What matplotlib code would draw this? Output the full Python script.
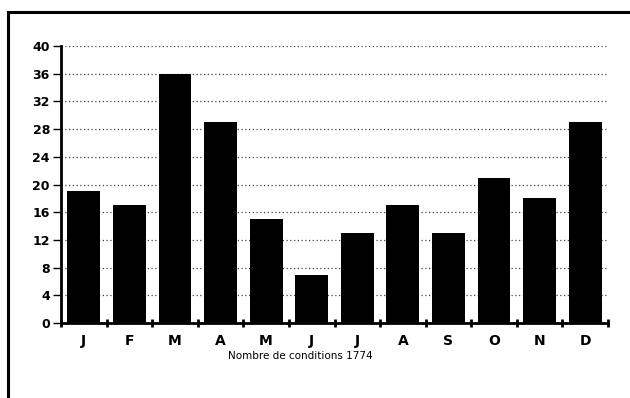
import numpy as np
import matplotlib.pyplot as plt
from matplotlib.patches import Rectangle

months = ['J', 'F', 'M', 'A', 'M', 'J', 'J', 'A', 'S', 'O', 'N', 'D']
counts = [19, 17, 36, 29, 15, 7, 13, 17, 13, 21, 18, 29]
y_ticks = list(range(0, 41, 4))

fig = plt.figure(figsize=(6.3, 3.98), dpi=100)
fig.patch.set_facecolor('white')

# outer frame (only top and left edges show in the scan)
fig.patches.append(Rectangle((8 / 630, -0.05), 1.0, 1 - 12 / 398 + 0.05,
                             transform=fig.transFigure, fill=False,
                             edgecolor='black', linewidth=2.2))

ax = fig.add_axes([61 / 630, 1 - 323 / 398, (608 - 61) / 630, (323 - 46) / 398])
x = np.arange(len(months))
ax.bar(x, counts, width=0.72, color='black', zorder=3)

ax.set_xlim(-0.5, len(months) - 0.5)
ax.set_ylim(0, 40)
ax.set_yticks(y_ticks)
ax.set_xticks(x)
ax.set_xticklabels(months, fontsize=10, fontweight='bold')
ax.set_xticks(np.arange(-0.5, len(months)), minor=True)
ax.tick_params(axis='x', which='major', length=0, pad=8)
ax.tick_params(axis='x', which='minor', direction='inout', length=6, width=2)
ax.tick_params(axis='y', direction='out', length=6, width=1, labelsize=9, pad=2)
for lbl in ax.get_yticklabels():
    lbl.set_fontweight('bold')

ax.grid(axis='y', linestyle=(0, (1, 2)), color='#444444', linewidth=0.9, zorder=0)
for side in ['top', 'right']:
    ax.spines[side].set_visible(False)
ax.spines['left'].set_linewidth(2)
ax.spines['bottom'].set_linewidth(2)

fig.text(300 / 630, 1 - 356 / 398, 'Nombre de conditions 1774', fontsize=7.5,
         ha='center', va='center')

fig.savefig('out.png', dpi=100)
